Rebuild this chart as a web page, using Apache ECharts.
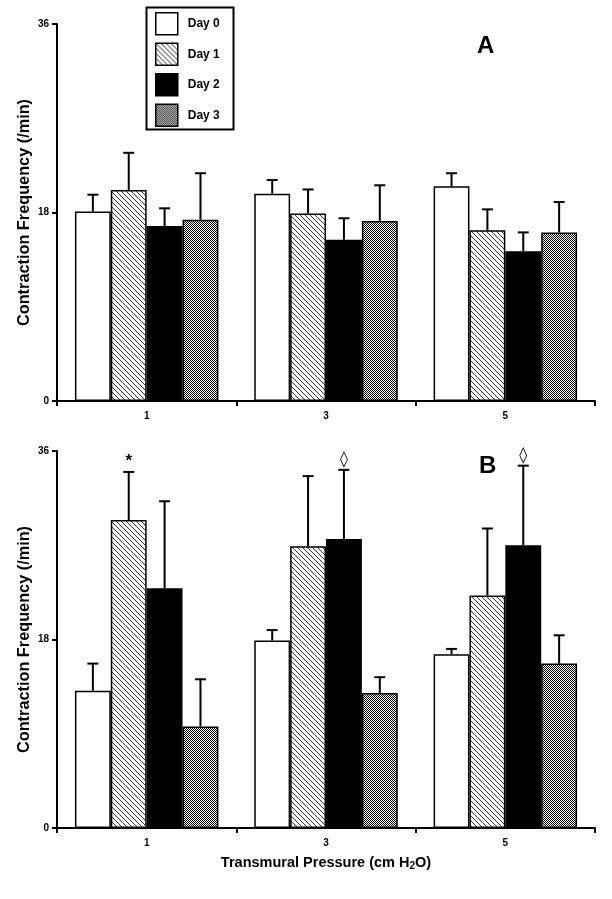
<!DOCTYPE html>
<html>
<head>
<meta charset="utf-8">
<script src="https://cdn.jsdelivr.net/npm/echarts@6/dist/echarts.min.js"></script>
<style>
  html, body { margin: 0; padding: 0; background: #fff; }
  #chart { width: 612px; height: 899px; }
</style>
</head>
<body>
<div id="chart"></div>
<script>
// categories and tick labels
const pressures = ['1', '3', '5'];
const days = ['Day 0', 'Day 1', 'Day 2', 'Day 3'];
const yTicks = [0, 18, 36];

// panel A means and upper error
const meanA = [
    [18.1, 19.8, 20.5],
    [20.15, 17.9, 16.3],
    [16.7, 15.4, 14.3],
    [17.3, 17.2, 16.1]
];
const errA = [
    [1.6, 1.3, 1.25],
    [3.55, 2.3, 2.0],
    [1.7, 2.05, 1.8],
    [4.45, 3.4, 2.9]
];

// panel B means and upper error
const meanB = [
    [13.1, 17.9, 16.6],
    [29.4, 26.9, 22.2],
    [22.9, 27.6, 27.0],
    [9.7, 12.9, 15.7]
];
const errB = [
    [2.6, 1.0, 0.5],
    [4.6, 6.7, 6.4],
    [8.3, 6.6, 7.6],
    [4.5, 1.5, 2.7]
];
// significance marks in panel B
const markB = [
    ['', '', ''],
    ['*', '', ''],
    ['', '\u25CA', '\u25CA'],
    ['', '', '']
];

const FONT = '"Liberation Sans", Arial, sans-serif';

// fill patterns
function hatch() {
    const n = 5;
    const c = document.createElement('canvas');
    c.width = n; c.height = n;
    const ctx = c.getContext('2d');
    ctx.fillStyle = '#fff';
    ctx.fillRect(0, 0, n, n);
    ctx.fillStyle = '#333';
    for (let i = 0; i < n; i++) ctx.fillRect(i, i, 1, 1);
    return c;
}
function checker() {
    const c = document.createElement('canvas');
    c.width = 2; c.height = 2;
    const ctx = c.getContext('2d');
    ctx.fillStyle = '#fff';
    ctx.fillRect(0, 0, 2, 2);
    ctx.fillStyle = '#000';
    ctx.fillRect(0, 0, 1, 1);
    ctx.fillRect(1, 1, 1, 1);
    return c;
}
const fills = [
    '#ffffff',
    { image: hatch(), repeat: 'repeat' },
    '#000000',
    { image: checker(), repeat: 'repeat' }
];

const chart = echarts.init(document.getElementById('chart'));

function xAxisFor(gi, withName) {
    return {
        type: 'category',
        gridIndex: gi,
        data: pressures,
        axisLine: { lineStyle: { color: '#000', width: 2 } },
        axisTick: { show: true, length: 5, lineStyle: { color: '#000', width: 2 } },
        axisLabel: { color: '#000', fontFamily: FONT, fontWeight: 'bold', fontSize: 10, margin: 10 },
        name: withName ? 'Transmural Pressure (cm H{sub|2}O)' : '',
        nameLocation: 'middle',
        nameGap: 26,
        nameTextStyle: {
            color: '#000', fontFamily: FONT, fontWeight: 'bold', fontSize: 14.5,
            rich: { sub: { fontFamily: FONT, fontWeight: 'bold', fontSize: 10, verticalAlign: 'bottom', padding: [7, 0, 0, 0] } }
        }
    };
}
function yAxisFor(gi) {
    return {
        type: 'value',
        gridIndex: gi,
        min: yTicks[0],
        max: yTicks[yTicks.length - 1],
        interval: yTicks[1] - yTicks[0],
        splitLine: { show: false },
        axisLine: { show: true, lineStyle: { color: '#000', width: 2 } },
        axisTick: { show: true, length: 5, lineStyle: { color: '#000', width: 2 } },
        axisLabel: { color: '#000', fontFamily: FONT, fontWeight: 'bold', fontSize: 10, margin: 8 },
        name: 'Contraction Frequency (/min)',
        nameLocation: 'middle',
        nameGap: 24,
        nameMoveOverlap: false,
        nameTextStyle: { color: '#000', fontFamily: FONT, fontWeight: 'bold', fontSize: 16.3 }
    };
}

function barSeries(means, gi) {
    return means.map((vals, i) => ({
        name: days[i],
        type: 'bar',
        xAxisIndex: gi,
        yAxisIndex: gi,
        data: vals,
        barGap: '0%',
        barCategoryGap: '20%',
        itemStyle: { color: fills[i], borderColor: '#000', borderWidth: 1.5 },
        silent: true,
        z: 2
    }));
}

function errSeries(means, errs, marks, gi) {
    const rows = [];
    const labels = [];
    means.forEach((vals, i) => vals.forEach((v, c) => {
        rows.push([c, i, v, errs[i][c]]);
        labels.push(marks ? marks[i][c] : '');
    }));
    return {
        type: 'custom',
        xAxisIndex: gi,
        yAxisIndex: gi,
        data: rows,
        z: 5,
        silent: true,
        renderItem(params, api) {
            const cat = api.value(0), idx = api.value(1), m = api.value(2), e = api.value(3);
            const base = api.coord([cat, m]);
            const top = api.coord([cat, m + e]);
            const bw = api.size([1, 0])[0] * 0.8 / 4;
            const x = base[0] + (idx - 1.5) * bw;
            const ls = { stroke: '#000', lineWidth: 2 };
            const kids = [
                { type: 'line', shape: { x1: x, y1: base[1], x2: x, y2: top[1] }, style: ls },
                { type: 'line', shape: { x1: x - 5.5, y1: top[1], x2: x + 5.5, y2: top[1] }, style: ls }
            ];
            const t = labels[params.dataIndex];
            if (t) {
                kids.push({
                    type: 'text',
                    style: {
                        text: t, x: x, y: top[1] - 2,
                        fill: '#000', align: 'center', verticalAlign: 'bottom',
                        font: t === '*' ? 'bold 17px ' + FONT : '16px "DejaVu Sans", sans-serif'
                    }
                });
            }
            return { type: 'group', children: kids };
        }
    };
}

chart.setOption({
    animation: false,
    backgroundColor: '#fff',
    grid: [
        { left: 57, right: 17, top: 24, height: 377 },
        { left: 57, right: 17, top: 451, height: 377 }
    ],
    xAxis: [xAxisFor(0, false), xAxisFor(1, true)],
    yAxis: [yAxisFor(0), yAxisFor(1)],
    legend: {
        data: days,
        orient: 'vertical',
        left: 155,
        top: 12,
        padding: 0,
        icon: 'rect',
        itemWidth: 22,
        itemHeight: 22,
        itemGap: 7,
        selectedMode: false,
        itemStyle: { borderColor: '#000', borderWidth: 1.5 },
        textStyle: { color: '#000', fontFamily: FONT, fontWeight: 'bold', fontSize: 12, padding: [0, 0, 0, 5] }
    },
    graphic: [
        { type: 'rect', left: 144, top: 5, shape: { width: 87, height: 122 }, style: { fill: 'none', stroke: '#000', lineWidth: 2 } },
        { type: 'text', left: 477, top: 34, style: { text: 'A', fill: '#000', font: 'bold 24px ' + FONT } },
        { type: 'text', left: 479, top: 454, style: { text: 'B', fill: '#000', font: 'bold 24px ' + FONT } }
    ],
    series: [
        ...barSeries(meanA, 0),
        errSeries(meanA, errA, null, 0),
        ...barSeries(meanB, 1),
        errSeries(meanB, errB, markB, 1)
    ]
});
</script>
</body>
</html>
